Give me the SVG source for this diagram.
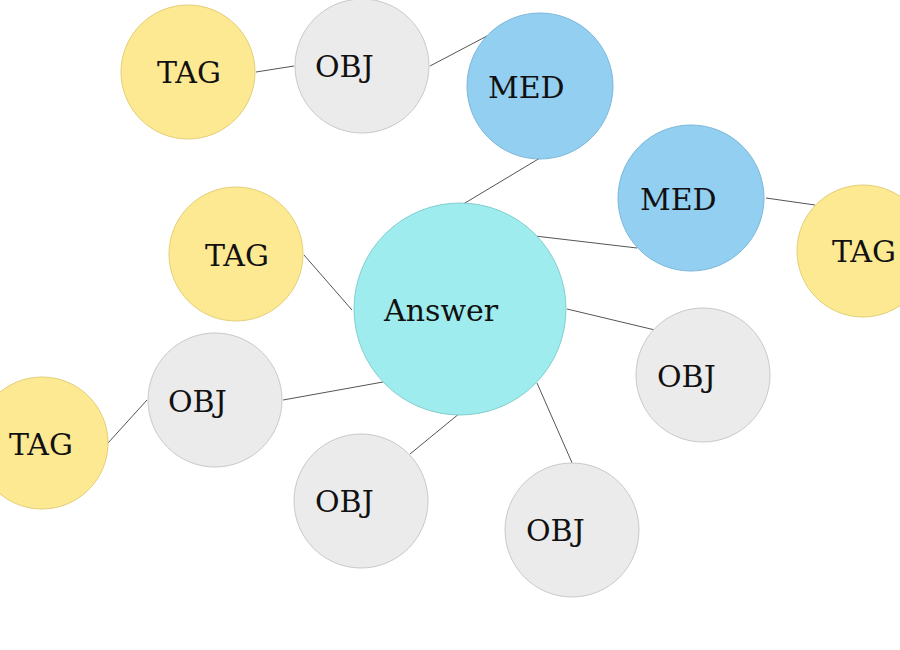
<svg xmlns="http://www.w3.org/2000/svg" width="900" height="650" viewBox="0 0 900 650">
<style>
.tag{fill:#fde991;stroke:#e3cf78;stroke-width:1}
.obj{fill:#ebebeb;stroke:#c9c9c9;stroke-width:1}
.med{fill:#92cff1;stroke:#7bb7d8;stroke-width:1}
.ans{fill:#9eeced;stroke:#83cfd0;stroke-width:1}
text{font-family:"DejaVu Serif",serif;font-size:30px;fill:#111}
#edges line{stroke:#555;stroke-width:1}
</style>
<rect width="900" height="650" fill="#fff"/>
<g id="edges">
<line x1="256" y1="72" x2="294" y2="66"/>
<line x1="430" y1="66" x2="487" y2="36"/>
<line x1="540" y1="158" x2="460" y2="206"/>
<line x1="637" y1="248" x2="535" y2="236"/>
<line x1="766" y1="198" x2="815" y2="205"/>
<line x1="304" y1="255" x2="352" y2="310"/>
<line x1="567" y1="309" x2="655" y2="330"/>
<line x1="383" y1="382" x2="283" y2="400"/>
<line x1="147" y1="400" x2="108" y2="443"/>
<line x1="460" y1="413" x2="410" y2="454"/>
<line x1="537" y1="383" x2="573" y2="465"/>
</g>
<g id="tag1"><circle class="tag" cx="188" cy="72" r="67"/><text x="157" y="83">TAG</text></g>
<g id="obj1"><circle class="obj" cx="362" cy="66" r="67"/><text x="315" y="77">OBJ</text></g>
<g id="med1"><circle class="med" cx="540" cy="86" r="73"/><text x="488" y="98">MED</text></g>
<g id="med2"><circle class="med" cx="691" cy="198" r="73"/><text x="640" y="210">MED</text></g>
<g id="tag2"><circle class="tag" cx="863" cy="251" r="66"/><text x="832" y="262">TAG</text></g>
<g id="tag3"><circle class="tag" cx="236" cy="254" r="67"/><text x="205" y="266">TAG</text></g>
<g id="answer"><circle class="ans" cx="460" cy="309" r="106"/><text x="384" y="321">Answer</text></g>
<g id="obj2"><circle class="obj" cx="703" cy="375" r="67"/><text x="657" y="387">OBJ</text></g>
<g id="obj3"><circle class="obj" cx="215" cy="400" r="67"/><text x="168" y="412">OBJ</text></g>
<g id="tag4"><circle class="tag" cx="42" cy="443" r="66"/><text x="9" y="455">TAG</text></g>
<g id="obj4"><circle class="obj" cx="361" cy="501" r="67"/><text x="315" y="512">OBJ</text></g>
<g id="obj5"><circle class="obj" cx="572" cy="530" r="67"/><text x="526" y="541">OBJ</text></g>
</svg>
